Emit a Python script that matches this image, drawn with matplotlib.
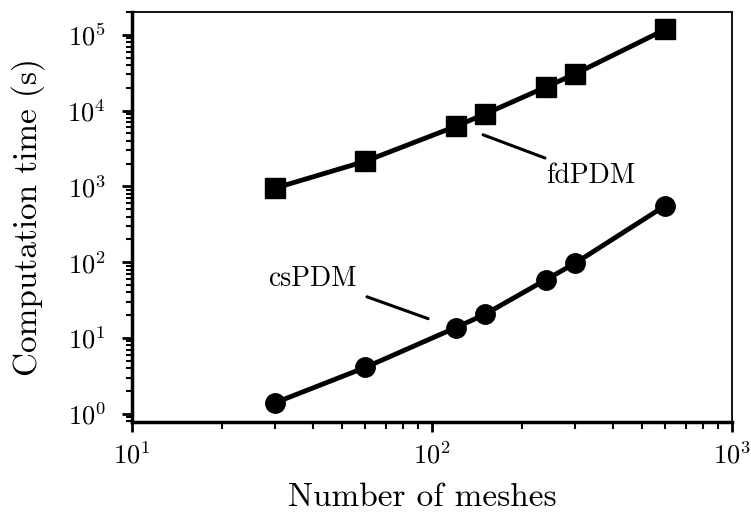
import numpy as np
import matplotlib.pyplot as plt

# mesh counts and run times
meshes = [30, 60, 120, 150, 240, 300, 600]
fd_time = [950, 2150, 6200, 9000, 20500, 30500, 118000]
cs_time = [1.4, 4.1, 13.7, 20.5, 59, 97, 560]

plt.rcParams['font.family'] = 'cmr10'
plt.rcParams['mathtext.fontset'] = 'cm'
plt.rcParams['axes.formatter.use_mathtext'] = True

fig = plt.figure(figsize=(7.51, 5.14), dpi=100)
ax = fig.add_axes([132 / 751, 1 - 422 / 514, 600 / 751, 410 / 514])

ax.loglog(meshes, fd_time, 's-', color='black', lw=3.5, ms=14)
ax.loglog(meshes, cs_time, 'o-', color='black', lw=3.5, ms=14)

ax.set_xlim(10, 1000)
ax.set_ylim(0.78, 2.0e5)

# series labels with leader lines
ax.text(240, 1380, 'fdPDM', fontsize=20, ha='left', va='center')
ax.annotate('', xy=(238, 2370), xytext=(148, 4800),
            arrowprops=dict(arrowstyle='-', lw=2.2, color='black',
                            shrinkA=0, shrinkB=0))
ax.text(40, 60, 'csPDM', fontsize=20, ha='center', va='center')
ax.annotate('', xy=(97, 18), xytext=(60.7, 35),
            arrowprops=dict(arrowstyle='-', lw=2.2, color='black',
                            shrinkA=0, shrinkB=0))

ax.set_xlabel('Number of meshes', fontsize=24)
ax.xaxis.set_label_coords(0.484, -0.149)
ax.set_ylabel('Computation time (s)', fontsize=24, labelpad=16)

ax.tick_params(axis='both', which='major', labelsize=19, width=2, length=7, direction='out')
ax.tick_params(axis='y', which='minor', width=1.5, length=4, direction='out')
ax.tick_params(axis='x', which='minor', width=1.5, length=5, direction='out')
ax.tick_params(axis='x', which='major', pad=7)
ax.tick_params(axis='y', which='major', pad=12)

for side in ['left', 'bottom']:
    ax.spines[side].set_linewidth(2.5)
for side in ['top', 'right']:
    ax.spines[side].set_linewidth(1.3)

fig.savefig('out.png', dpi=100)
